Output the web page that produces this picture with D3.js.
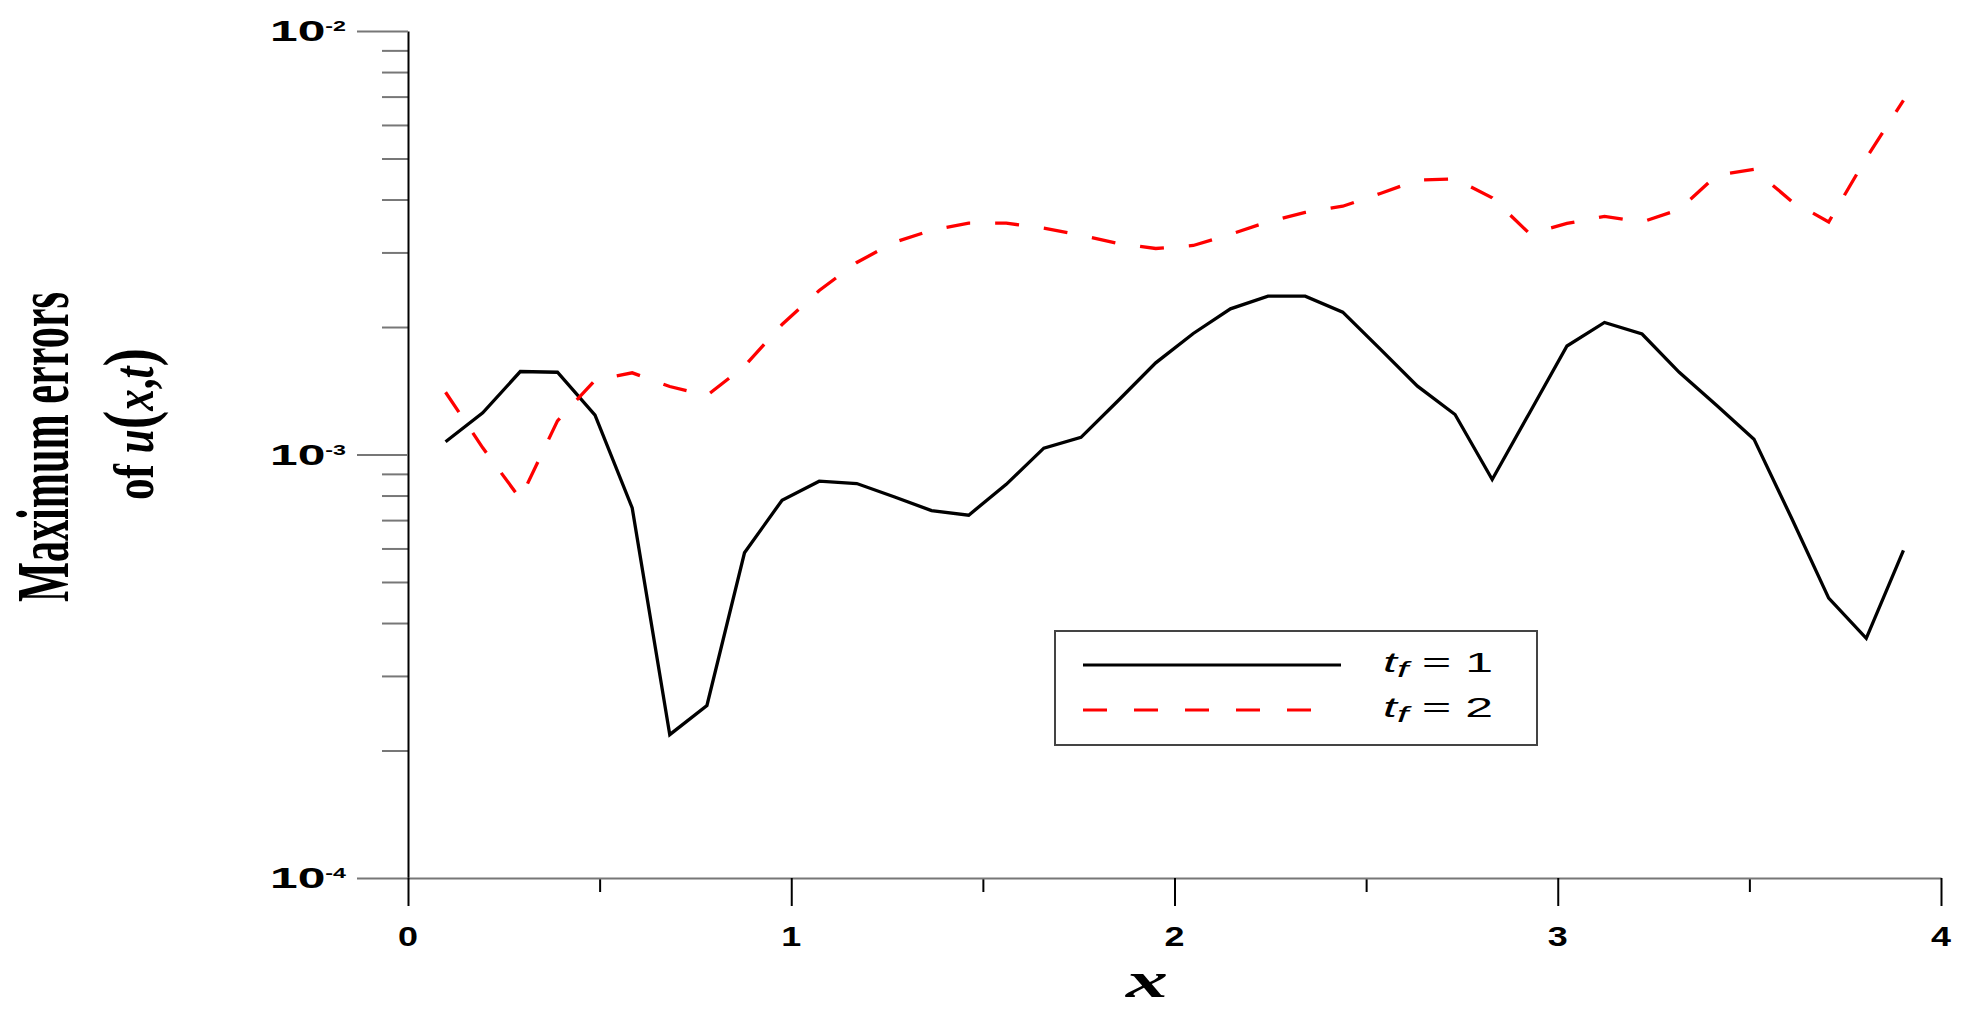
<!DOCTYPE html>
<meta charset="utf-8">
<style>
    body { margin: 0; background: #fff; }
    svg { display: block; }
    .sans { font-family: "Liberation Sans", Arial, sans-serif; }
    .serif { font-family: "Liberation Serif", "Times New Roman", serif; }
</style>
<div id="my_dataviz"></div>
<script src="https://d3js.org/d3.v7.min.js"></script>
<script>

    // x positions of the grid nodes
    var xs = [0.098, 0.195, 0.293, 0.390, 0.488, 0.585, 0.683, 0.780, 0.878, 0.976,
        1.073, 1.171, 1.268, 1.366, 1.463, 1.561, 1.659, 1.756, 1.854, 1.951,
        2.049, 2.146, 2.244, 2.341, 2.439, 2.537, 2.634, 2.732, 2.829, 2.927,
        3.024, 3.122, 3.220, 3.317, 3.415, 3.512, 3.610, 3.707, 3.805, 3.902];

    // maximum errors, t_f = 1
    var errT1 = [1.072e-3, 1.254e-3, 1.570e-3, 1.564e-3, 1.238e-3, 7.48e-4, 2.18e-4, 2.555e-4, 5.86e-4, 7.80e-4,
        8.65e-4, 8.54e-4, 7.95e-4, 7.37e-4, 7.19e-4, 8.50e-4, 1.035e-3, 1.098e-3, 1.343e-3, 1.646e-3,
        1.931e-3, 2.208e-3, 2.365e-3, 2.365e-3, 2.168e-3, 1.773e-3, 1.450e-3, 1.243e-3, 8.73e-4, 1.257e-3,
        1.804e-3, 2.050e-3, 1.925e-3, 1.563e-3, 1.305e-3, 1.087e-3, 7.08e-4, 4.58e-4, 3.68e-4, 5.94e-4];

    // maximum errors, t_f = 2
    var errT2 = [1.403e-3, 1.037e-3, 7.86e-4, 1.201e-3, 1.497e-3, 1.559e-3, 1.447e-3, 1.378e-3, 1.616e-3, 2.028e-3,
        2.439e-3, 2.841e-3, 3.167e-3, 3.385e-3, 3.517e-3, 3.517e-3, 3.422e-3, 3.294e-3, 3.150e-3, 3.065e-3,
        3.116e-3, 3.312e-3, 3.544e-3, 3.728e-3, 3.857e-3, 4.134e-3, 4.443e-3, 4.477e-3, 4.038e-3, 3.319e-3,
        3.512e-3, 3.648e-3, 3.541e-3, 3.788e-3, 4.565e-3, 4.711e-3, 3.964e-3, 3.541e-3, 5.012e-3, 6.855e-3];

    var xMajor = [0, 1, 2, 3, 4];
    var xMinor = [0.5, 1.5, 2.5, 3.5];
    var yExponents = [-2, -3, -4];
    var yMinor = [2e-4, 3e-4, 4e-4, 5e-4, 6e-4, 7e-4, 8e-4, 9e-4,
        2e-3, 3e-3, 4e-3, 5e-3, 6e-3, 7e-3, 8e-3, 9e-3];
    var seriesNames = ["1", "2"];

    var W = 1963, H = 1026;
    var plotL = 408, plotR = 1941, plotT = 31, plotB = 878;

    var svg = d3.select("#my_dataviz")
        .append("svg")
        .attr("width", W)
        .attr("height", H);

    svg.append("rect").attr("width", W).attr("height", H).attr("fill", "#fff");

    var x = d3.scaleLinear().domain([0, 4]).range([plotL, plotR]);
    var y = d3.scaleLog().domain([1e-4, 1e-2]).range([plotB, plotT]);

    // stretch text horizontally so it fills the measured width
    function fitX(sel, tx, ty, target) {
        var w = sel.node().getComputedTextLength();
        sel.attr("transform", "translate(" + tx + "," + ty + ") scale(" + (target / w) + ",1)");
    }

    // Y axis: minor ticks, then major ticks with the domain line
    var yMin = svg.append("g")
        .attr("transform", "translate(" + plotL + ",0)")
        .call(d3.axisLeft(y).tickValues(yMinor).tickSize(26).tickSizeOuter(0).tickFormat(""));
    yMin.select(".domain").remove();

    var yMaj = svg.append("g")
        .attr("transform", "translate(" + plotL + ",0)")
        .call(d3.axisLeft(y).tickValues(yExponents.map(function (e) { return Math.pow(10, e); }))
            .tickSize(51).tickSizeOuter(0).tickFormat(""));

    yMin.selectAll(".tick line").attr("stroke", "#777").attr("stroke-width", 2);
    yMaj.selectAll(".tick line").attr("stroke", "#777").attr("stroke-width", 2);
    yMaj.select(".domain").attr("stroke", "#000").attr("stroke-width", 2);

    // X axis
    var xMin = svg.append("g")
        .attr("transform", "translate(0," + plotB + ")")
        .call(d3.axisBottom(x).tickValues(xMinor).tickSize(14).tickSizeOuter(0).tickFormat(""));
    xMin.select(".domain").remove();
    var xMaj = svg.append("g")
        .attr("transform", "translate(0," + plotB + ")")
        .call(d3.axisBottom(x).tickValues(xMajor).tickSize(28).tickSizeOuter(0).tickFormat(""));
    xMaj.select(".domain").attr("stroke", "#777").attr("stroke-width", 2);
    xMin.selectAll(".tick line").attr("stroke", "#000").attr("stroke-width", 2);
    xMaj.selectAll(".tick line").attr("stroke", "#000").attr("stroke-width", 2);

    // Y tick labels 10^e
    yExponents.forEach(function (e) {
        var t = svg.append("text")
            .attr("class", "sans")
            .attr("text-anchor", "end")
            .attr("font-weight", "bold")
            .attr("font-size", 30);
        t.append("tspan").text("10");
        t.append("tspan").attr("font-size", 14).attr("dy", -10).text("-" + Math.abs(e));
        fitX(t, 346, y(Math.pow(10, e)) + 10, 76);
    });

    // X tick labels
    xMajor.forEach(function (v) {
        var t = svg.append("text")
            .attr("class", "sans")
            .attr("text-anchor", "middle")
            .attr("font-weight", "bold")
            .attr("font-size", 27)
            .text(v);
        fitX(t, x(v), 946, 20);
    });

    // lines
    var line = d3.line()
        .x(function (d) { return x(d[0]); })
        .y(function (d) { return y(d[1]); });

    svg.append("path")
        .datum(d3.zip(xs, errT1))
        .attr("fill", "none")
        .attr("stroke", "#000")
        .attr("stroke-width", 3.3)
        .attr("d", line);

    svg.append("path")
        .datum(d3.zip(xs, errT2))
        .attr("fill", "none")
        .attr("stroke", "#ff0000")
        .attr("stroke-width", 3.3)
        .attr("stroke-dasharray", "24,25")
        .attr("d", line);

    // x axis title
    var xt = svg.append("text")
        .attr("class", "serif")
        .attr("text-anchor", "middle")
        .attr("font-weight", "bold")
        .attr("font-style", "italic")
        .attr("font-size", 50)
        .text("x");
    fitX(xt, 1147, 997, 42);

    // y axis title, two lines, rotated
    var yt1 = svg.append("text")
        .attr("class", "serif")
        .attr("text-anchor", "middle")
        .attr("font-weight", "bold")
        .attr("font-size", 73)
        .text("Maximum errors");
    var w1 = yt1.node().getComputedTextLength();
    yt1.attr("transform", "translate(68,447) rotate(-90) scale(" + (310 / w1) + ",1)");

    var yt2 = svg.append("text")
        .attr("class", "serif")
        .attr("text-anchor", "middle")
        .attr("font-weight", "bold")
        .attr("font-size", 56);
    yt2.append("tspan").text("of ");
    yt2.append("tspan").attr("font-style", "italic").text("u");
    yt2.append("tspan").attr("font-size", 72).text("(");
    yt2.append("tspan").attr("font-style", "italic").text("x");
    yt2.append("tspan").text(",");
    yt2.append("tspan").attr("font-style", "italic").text("t");
    yt2.append("tspan").attr("font-size", 72).text(")");
    var w2 = yt2.node().getComputedTextLength();
    yt2.attr("transform", "translate(153,424) rotate(-90) scale(" + (152 / w2) + ",1)");

    // legend
    var lg = svg.append("g");
    lg.append("rect")
        .attr("x", 1055).attr("y", 631)
        .attr("width", 482).attr("height", 114)
        .attr("fill", "#fff")
        .attr("stroke", "#444")
        .attr("stroke-width", 2);
    var legendY = [665, 710];
    var legendStyle = [{ c: "#000", dash: null, x2: 1341 }, { c: "#ff0000", dash: "24,27", x2: 1312 }];
    seriesNames.forEach(function (n, i) {
        lg.append("line")
            .attr("x1", 1083).attr("x2", legendStyle[i].x2)
            .attr("y1", legendY[i]).attr("y2", legendY[i])
            .attr("stroke", legendStyle[i].c)
            .attr("stroke-width", 3)
            .attr("stroke-dasharray", legendStyle[i].dash);
        var t = lg.append("text")
            .attr("class", "sans")
            .attr("font-size", 27);
        t.append("tspan").attr("font-style", "italic").text("t");
        t.append("tspan").attr("font-style", "italic").attr("font-size", 22).attr("dy", 5).text("f");
        t.append("tspan").attr("dy", -5).text(" = " + n);
        fitX(t, 1383, legendY[i] + 7, 110);
    });

</script>
